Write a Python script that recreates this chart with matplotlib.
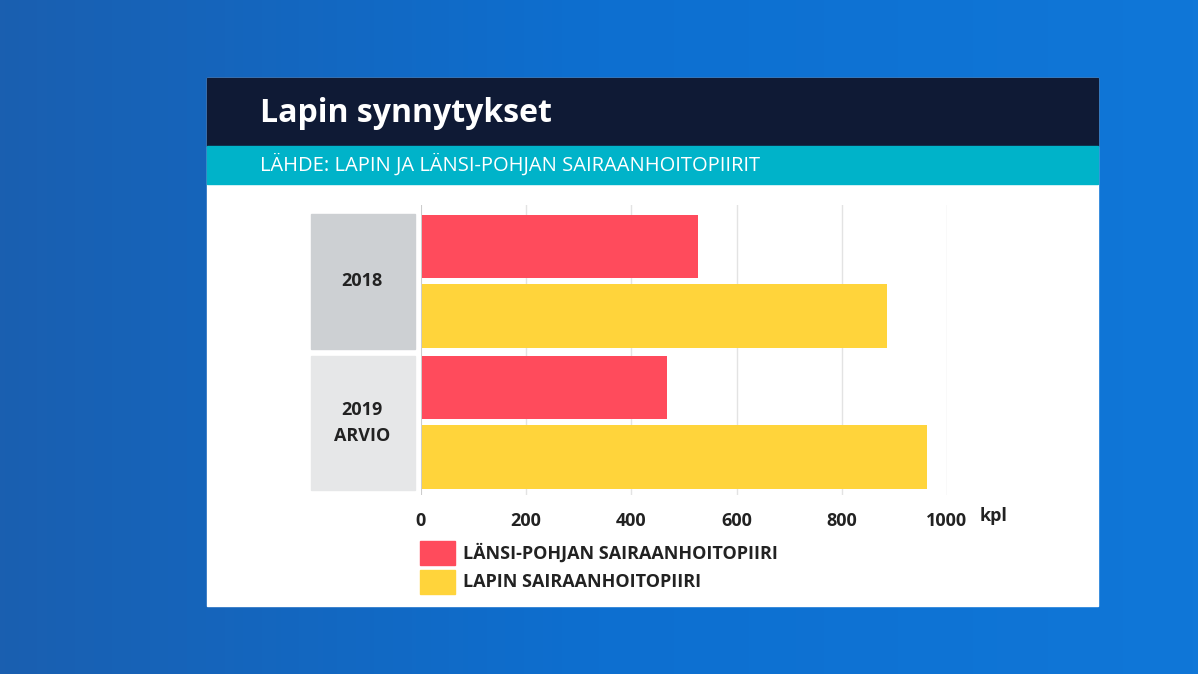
import matplotlib
matplotlib.use('Agg')
import matplotlib.pyplot as plt
from matplotlib.patches import Rectangle
import numpy as np

# data
years = ['2018', '2019\nARVIO']
lansi_pohja = [525, 466]
lappi = [884, 960]
ticks = [0, 200, 400, 600, 800, 1000]
series_names = ['LÄNSI-POHJAN SAIRAANHOITOPIIRI', 'LAPIN SAIRAANHOITOPIIRI']
colors = ['#ff4b5c', '#ffd43b']

W, H = 1198, 674
fig = plt.figure(figsize=(W / 100, H / 100), dpi=100)

# background
bg = fig.add_axes([0, 0, 1, 1])
grad = np.linspace(0, 1, 256)[None, :]
bg.imshow(grad, aspect='auto', cmap=matplotlib.colors.LinearSegmentedColormap.from_list(
    'b', ['#1a5fb0', '#0d6fd0', '#1077d8']), extent=[0, W, H, 0])
bg.set_xlim(0, W)
bg.set_ylim(H, 0)
bg.axis('off')

def px(x, y, w, h, **kw):
    bg.add_patch(Rectangle((x, y), w, h, **kw))

px(207, 78, 891, 528, color='white')
px(207, 78, 891, 68, color='#0f1a35')
px(207, 146, 891, 38, color='#00b3c9')
bg.text(260, 113, 'Lapin synnytykset', color='white', fontsize=23, fontweight='bold',
        va='center', family='Open Sans')
bg.text(260, 165, 'LÄHDE: LAPIN JA LÄNSI-POHJAN SAIRAANHOITOPIIRIT', color='white',
        fontsize=14.5, va='center', family='Open Sans')

# category boxes
px(311, 214, 104, 135, color='#cdd0d3')
px(311, 356, 104, 134, color='#e6e7e8')
for yc, lab in zip([281, 423], years):
    bg.text(362, yc, lab, ha='center', va='center', fontsize=13, fontweight='bold',
            color='#222222', family='Open Sans', linespacing=1.6)

# legend
for i, (name, c) in enumerate(zip(series_names, colors)):
    y0 = 541 + i * 29
    px(420, y0, 35, 24, color=c)
    bg.text(463, y0 + 12, name, va='center', fontsize=13, fontweight='bold',
            color='#222222', family='Open Sans')

# chart axes
ax = fig.add_axes([421 / W, 1 - 495 / H, (947 - 421) / W, (495 - 205) / H])
ax.set_xlim(0, 1000)
ax.set_ylim(495, 205)
ax.patch.set_alpha(0)
for s in ax.spines.values():
    s.set_visible(False)
ax.set_yticks([])
ax.set_xticks(ticks)
ax.set_xticklabels([str(t) for t in ticks], fontsize=13, fontweight='bold',
                   family='Open Sans', color='#222222')
ax.tick_params(length=0, pad=12)
for t in ticks[1:]:
    ax.axvline(t, color='#e3e3e3', lw=1, zorder=0)
ax.axvline(0, color='#cccccc', lw=1.5, zorder=0)

red_y = [246, 387]
yel_y = [316, 457]
ax.barh(red_y, lansi_pohja, height=63, color=colors[0], left=2, zorder=2)
ax.barh(yel_y, lappi, height=64, color=colors[1], left=2, zorder=2)

bg.text(980, 516, 'kpl', fontsize=13, fontweight='bold', family='Open Sans',
        color='#222222', va='center')

fig.savefig('out.png', dpi=100)
